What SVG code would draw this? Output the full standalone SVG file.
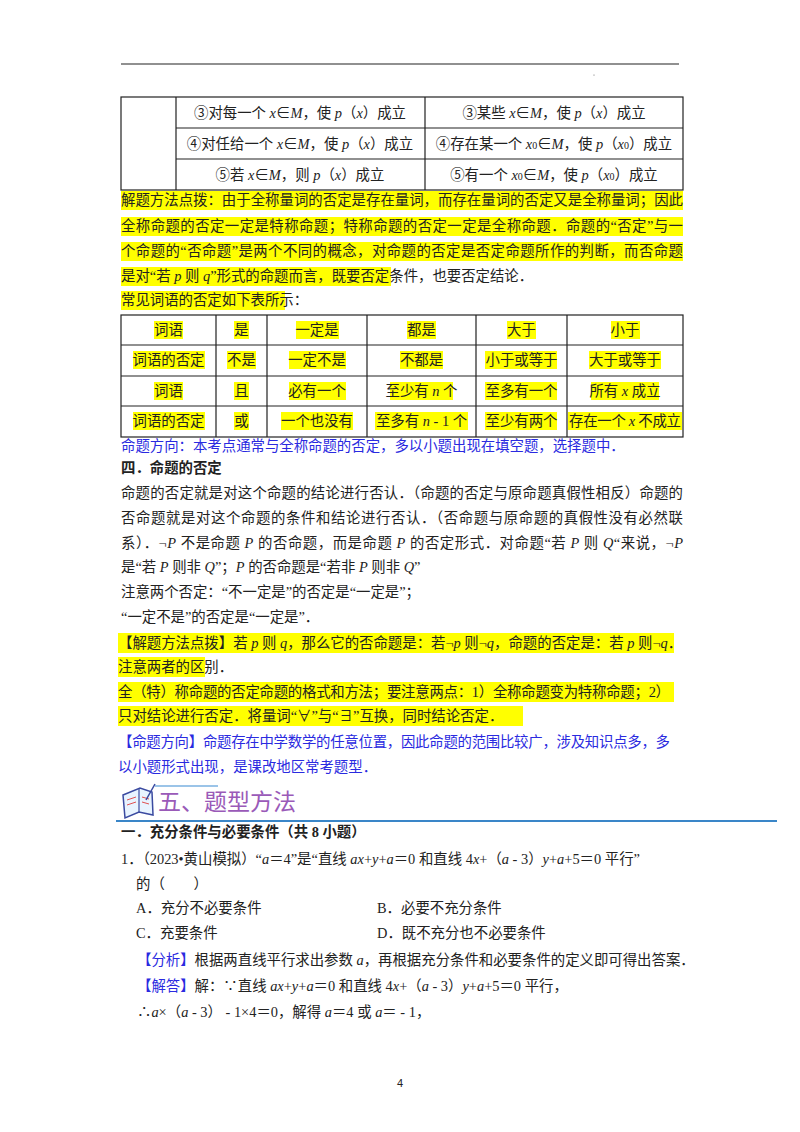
<svg xmlns="http://www.w3.org/2000/svg" width="800" height="1132" viewBox="0 0 800 1132">
<style>
text{font-family:"Liberation Serif","Noto Sans CJK SC",serif;font-size:14.4px;fill:#222}
.c{text-anchor:middle}
.i{font-style:italic}
.b{fill:#2a2ae0}
.bd{font-weight:bold}
.hl{fill:#ffff00}
.ln{stroke:#222;stroke-width:1.2;fill:none}
</style>
<rect width="800" height="1132" fill="#fff"/>
<line x1="121" y1="64" x2="679" y2="64" stroke="#222" stroke-width="1.2"/>
<circle cx="594" cy="75" r="0.6" fill="#666"/>
<g id="table1">
<rect class="ln" x="121" y="97" width="562" height="93"/>
<path class="ln" d="M176 97V190M425 97V190M176 128H683M176 159H683"/>
<text class="c" x="300" y="118">③对每一个 <tspan class="i">x</tspan>∈<tspan class="i">M</tspan>，使 <tspan class="i">p</tspan>（<tspan class="i">x</tspan>）成立</text>
<text class="c" x="554" y="118">③某些 <tspan class="i">x</tspan>∈<tspan class="i">M</tspan>，使 <tspan class="i">p</tspan>（<tspan class="i">x</tspan>）成立</text>
<text class="c" x="300" y="149">④对任给一个 <tspan class="i">x</tspan>∈<tspan class="i">M</tspan>，使 <tspan class="i">p</tspan>（<tspan class="i">x</tspan>）成立</text>
<text class="c" x="554" y="149">④存在某一个 <tspan class="i">x</tspan><tspan font-size="10">0</tspan>∈<tspan class="i">M</tspan>，使 <tspan class="i">p</tspan>（<tspan class="i">x</tspan><tspan font-size="10">0</tspan>）成立</text>
<text class="c" x="300" y="180">⑤若 <tspan class="i">x</tspan>∈<tspan class="i">M</tspan>，则 <tspan class="i">p</tspan>（<tspan class="i">x</tspan>）成立</text>
<text class="c" x="554" y="180">⑤有一个 <tspan class="i">x</tspan><tspan font-size="10">0</tspan>∈<tspan class="i">M</tspan>，使 <tspan class="i">p</tspan>（<tspan class="i">x</tspan><tspan font-size="10">0</tspan>）成立</text>
</g>
<g id="tips1">
<rect class="hl" x="121" y="191" width="562" height="19"/>
<rect class="hl" x="121" y="217" width="562" height="19"/>
<rect class="hl" x="121" y="242" width="562" height="19"/>
<rect class="hl" x="121" y="267" width="270" height="19"/>
<rect class="hl" x="121" y="291" width="164" height="19"/>
<text x="121" y="205" textLength="562">解题方法点拨：由于全称量词的否定是存在量词，而存在量词的否定又是全称量词；因此</text>
<text x="121" y="231" textLength="562">全称命题的否定一定是特称命题；特称命题的否定一定是全称命题．命题的“否定”与一</text>
<text x="121" y="256" textLength="562">个命题的“否命题”是两个不同的概念，对命题的否定是否定命题所作的判断，而否命题</text>
<text x="121" y="281">是对“若 <tspan class="i">p</tspan> 则 <tspan class="i">q</tspan>”形式的命题而言，既要否定条件，也要否定结论．</text>
<text x="121" y="305">常见词语的否定如下表所示：</text>
</g>
<g id="table2">
<rect class="hl" x="154" y="321" width="29" height="18"/><rect class="hl" x="234" y="321" width="15" height="18"/><rect class="hl" x="296" y="321" width="43" height="18"/><rect class="hl" x="407" y="321" width="29" height="18"/><rect class="hl" x="507" y="321" width="29" height="18"/><rect class="hl" x="611" y="321" width="29" height="18"/>
<rect class="hl" x="133" y="351" width="72" height="18"/><rect class="hl" x="227" y="351" width="29" height="18"/><rect class="hl" x="289" y="351" width="57" height="18"/><rect class="hl" x="400" y="351" width="43" height="18"/><rect class="hl" x="485" y="351" width="72" height="18"/><rect class="hl" x="589" y="351" width="72" height="18"/>
<rect class="hl" x="154" y="382" width="29" height="18"/><rect class="hl" x="234" y="382" width="15" height="18"/><rect class="hl" x="289" y="382" width="57" height="18"/><rect class="hl" x="390" y="382" width="63" height="18"/><rect class="hl" x="485" y="382" width="72" height="18"/><rect class="hl" x="591" y="382" width="68" height="18"/>
<rect class="hl" x="133" y="412" width="72" height="18"/><rect class="hl" x="234" y="412" width="15" height="18"/><rect class="hl" x="281" y="412" width="72" height="18"/><rect class="hl" x="375" y="412" width="93" height="18"/><rect class="hl" x="485" y="412" width="72" height="18"/><rect class="hl" x="568" y="412" width="114" height="18"/>
<rect class="ln" x="121" y="315" width="562" height="122"/>
<path class="ln" d="M216 315V437M267 315V437M367 315V437M476 315V437M567 315V437M121 345H683M121 376H683M121 406H683"/>
<text class="c" x="168.5" y="335">词语</text><text class="c" x="241.5" y="335">是</text><text class="c" x="317" y="335">一定是</text><text class="c" x="421.5" y="335">都是</text><text class="c" x="521.5" y="335">大于</text><text class="c" x="625" y="335">小于</text>
<text class="c" x="168.5" y="365">词语的否定</text><text class="c" x="241.5" y="365">不是</text><text class="c" x="317" y="365">一定不是</text><text class="c" x="421.5" y="365">不都是</text><text class="c" x="521.5" y="365">小于或等于</text><text class="c" x="625" y="365">大于或等于</text>
<text class="c" x="168.5" y="396">词语</text><text class="c" x="241.5" y="396">且</text><text class="c" x="317" y="396">必有一个</text><text class="c" x="421.5" y="396">至少有 <tspan class="i">n</tspan> 个</text><text class="c" x="521.5" y="396">至多有一个</text><text class="c" x="625" y="396">所有 <tspan class="i">x</tspan> 成立</text>
<text class="c" x="168.5" y="426">词语的否定</text><text class="c" x="241.5" y="426">或</text><text class="c" x="317" y="426">一个也没有</text><text class="c" x="421.5" y="426">至多有 <tspan class="i">n</tspan> - 1 个</text><text class="c" x="521.5" y="426">至少有两个</text><text class="c" x="625" y="426" textLength="112">存在一个 <tspan class="i">x</tspan> 不成立</text>
</g>
<g id="section4">
<text class="b" x="121" y="451">命题方向：本考点通常与全称命题的否定，多以小题出现在填空题，选择题中．</text>
<text class="bd" x="121" y="473">四．命题的否定</text>
<text x="121" y="498" textLength="562">命题的否定就是对这个命题的结论进行否认．（命题的否定与原命题真假性相反）命题的</text>
<text x="121" y="523" textLength="562">否命题就是对这个命题的条件和结论进行否认．（否命题与原命题的真假性没有必然联</text>
<text x="121" y="548" textLength="562">系）．¬<tspan class="i">P</tspan> 不是命题 <tspan class="i">P</tspan> 的否命题，而是命题 <tspan class="i">P</tspan> 的否定形式．对命题“若 <tspan class="i">P</tspan> 则 <tspan class="i">Q</tspan>“来说，¬<tspan class="i">P</tspan></text>
<text x="121" y="572">是“若 <tspan class="i">P</tspan> 则非 <tspan class="i">Q</tspan>”；<tspan class="i">P</tspan> 的否命题是“若非 <tspan class="i">P</tspan> 则非 <tspan class="i">Q</tspan>”</text>
<text x="121" y="597">注意两个否定：“不一定是”的否定是“一定是”；</text>
<text x="121" y="622">“一定不是”的否定是“一定是”．</text>
<rect class="hl" x="118" y="633" width="556" height="20"/>
<rect class="hl" x="118" y="657" width="87" height="20"/>
<rect class="hl" x="118" y="682" width="556" height="20"/>
<rect class="hl" x="118" y="706" width="405" height="20"/>
<text x="118" y="648">【解题方法点拨】若 <tspan class="i">p</tspan> 则 <tspan class="i">q</tspan>，那么它的否命题是：若¬<tspan class="i">p</tspan> 则¬<tspan class="i">q</tspan>，命题的否定是：若 <tspan class="i">p</tspan> 则¬<tspan class="i">q</tspan>．</text>
<text x="118" y="672">注意两者的区别．</text>
<text x="118" y="697" textLength="552">全（特）称命题的否定命题的格式和方法；要注意两点：1）全称命题变为特称命题；2）</text>
<text x="118" y="721">只对结论进行否定．将量词“∀”与“∃”互换，同时结论否定．</text>
<text class="b" x="118" y="747" textLength="552">【命题方向】命题存在中学数学的任意位置，因此命题的范围比较广，涉及知识点多，多</text>
<text class="b" x="118" y="772">以小题形式出现，是课改地区常考题型．</text>
</g>
<g id="header5">
<path d="M123 795 L140 788 L152 792 L153 815 L139 812 L125 818 Z" fill="#e8f4ff" stroke="#3a4aa0" stroke-width="1.5"/>
<path d="M139 789 L139 812" stroke="#3a4aa0" stroke-width="1.2"/>
<path d="M127 800 L136 797 M127 805 L136 802 M142 797 L149 799 M142 802 L149 804" stroke="#e05050" stroke-width="1"/>
<path d="M146 800 L155 784" stroke="#3a4aa0" stroke-width="1.5"/>
<line x1="155" y1="786" x2="218" y2="786" stroke="#7ab0e0" stroke-width="1.5"/>
<text x="158" y="810" style="font-size:23px;fill:#9a5ab8">五、题型方法</text>
<line x1="116" y1="821" x2="777" y2="821" stroke="#3a86c8" stroke-width="2"/>
</g>
<g id="question1">
<text class="bd" x="121" y="837">一．充分条件与必要条件（共 8 小题）</text>
<text x="121" y="864">1．（2023•黄山模拟）“<tspan class="i">a</tspan>＝4”是“直线 <tspan class="i">ax</tspan>+<tspan class="i">y</tspan>+<tspan class="i">a</tspan>＝0 和直线 4<tspan class="i">x</tspan>+（<tspan class="i">a</tspan> - 3）<tspan class="i">y</tspan>+<tspan class="i">a</tspan>+5＝0 平行”</text>
<text x="136" y="889">的（　　）</text>
<text x="136" y="913">A．充分不必要条件</text>
<text x="377" y="913">B．必要不充分条件</text>
<text x="136" y="938">C．充要条件</text>
<text x="377" y="938">D．既不充分也不必要条件</text>
<text x="137" y="965"><tspan class="b">【分析】</tspan>根据两直线平行求出参数 <tspan class="i">a</tspan>，再根据充分条件和必要条件的定义即可得出答案．</text>
<text x="137" y="991"><tspan class="b">【解答】</tspan>解：∵直线 <tspan class="i">ax</tspan>+<tspan class="i">y</tspan>+<tspan class="i">a</tspan>＝0 和直线 4<tspan class="i">x</tspan>+（<tspan class="i">a</tspan> - 3）<tspan class="i">y</tspan>+<tspan class="i">a</tspan>+5＝0 平行，</text>
<text x="137" y="1017">∴<tspan class="i">a</tspan>×（<tspan class="i">a</tspan> - 3） - 1×4＝0，解得 <tspan class="i">a</tspan>＝4 或 <tspan class="i">a</tspan>＝ - 1，</text>
</g>
<text class="c" x="400" y="1087" style="font-family:'Liberation Sans',sans-serif;font-size:11px">4</text>
</svg>
